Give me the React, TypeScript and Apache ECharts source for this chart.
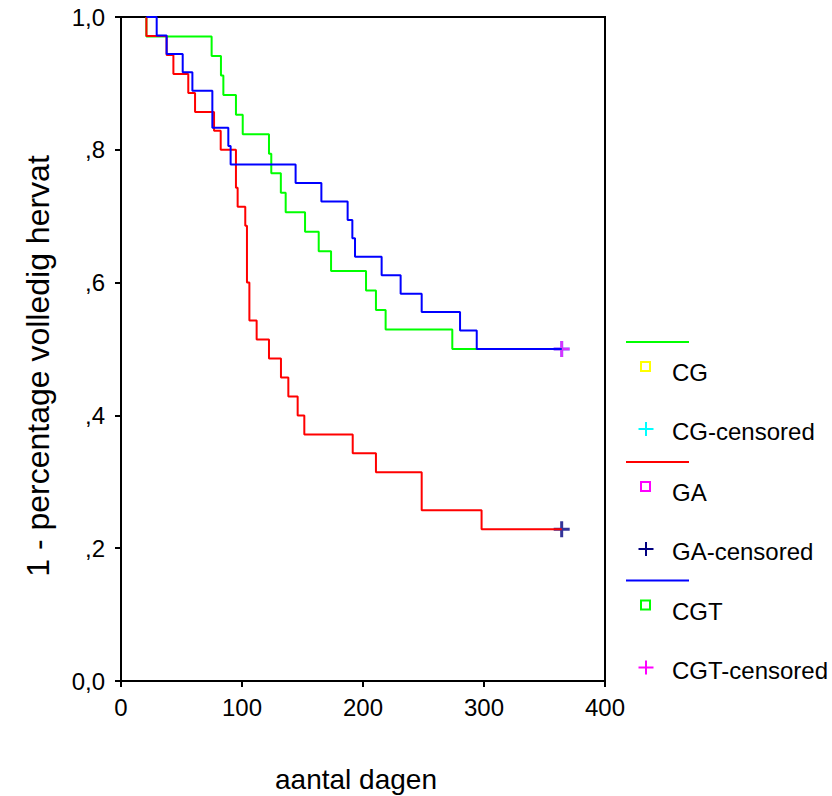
import React, { useEffect, useRef } from "react";
import * as echarts from "echarts";

// Kaplan-Meier step data (days, 1 - proportion fully resumed)
const cgDays = [21, 21, 74.9, 82.6, 84.6, 95, 100.6, 122.3, 124.2, 132.1, 136.1, 152.1, 163.4, 173.6, 202.5, 210.7, 218.7, 273.8, 364.2];
const cgSurv = [1, 0.9706, 0.9412, 0.9118, 0.8824, 0.8529, 0.8235, 0.7941, 0.7647, 0.7353, 0.7059, 0.6765, 0.6471, 0.6176, 0.5882, 0.5588, 0.5294, 0.5, 0.5];

const gaDays = [21, 21, 37.7, 43.3, 55.6, 61.2, 76.9, 82.4, 95, 96.4, 102.7, 104.1, 106.1, 112.1, 122.3, 132.2, 138.3, 146, 151.5, 191.5, 210.7, 248.5, 298, 364.2];
const gaSurv = [1, 0.9714, 0.9429, 0.9143, 0.8857, 0.8571, 0.8286, 0.8, 0.7429, 0.7143, 0.6857, 0.6, 0.5429, 0.5143, 0.4857, 0.4571, 0.4286, 0.4, 0.3714, 0.3429, 0.3143, 0.2571, 0.2286, 0.2286];

const cgtDays = [21, 29.5, 37.7, 51, 59, 75.5, 88.7, 90.6, 144.3, 165.6, 187.3, 191.2, 193.4, 215.4, 231.1, 248.5, 280.2, 294, 364.2];
const cgtSurv = [1, 0.9722, 0.9444, 0.9167, 0.8889, 0.8333, 0.8056, 0.7778, 0.75, 0.7222, 0.6944, 0.6667, 0.6389, 0.6111, 0.5833, 0.5556, 0.5278, 0.5, 0.5];

const cgCensDays = [364.2];
const cgCensSurv = [0.5];
const gaCensDays = [364.2];
const gaCensSurv = [0.2286];
const cgtCensDays = [364.2];
const cgtCensSurv = [0.5];

const legendLabels = ["CG", "CG-censored", "GA", "GA-censored", "CGT", "CGT-censored"];
const xTitle = "aantal dagen";
const yTitle = "1 - percentage volledig hervat";

const FONT = '"Liberation Sans", Arial, sans-serif';
const PLUS = "path://M6.5,0h3v6.5h6.5v3h-6.5v6.5h-3v-6.5h-6.5v-3h6.5z";

const zip = (xs: number[], ys: number[]) => xs.map((x, i) => [x, ys[i]]);

export default function App() {
  const ref = useRef<HTMLDivElement>(null);
  useEffect(() => {
    if (!ref.current) return;
    const chart = echarts.init(ref.current, undefined, { renderer: "svg" });

    const groups = [
      { line: "#00ff00", box: "#ffff00", cross: "#00ffff", y: 342 },
      { line: "#ff0000", box: "#ff00ff", cross: "#000080", y: 462 },
      { line: "#0000ff", box: "#00ff00", cross: "#ff00ff", y: 580.5 },
    ];
    const graphic: any[] = [];
    groups.forEach((g, i) => {
      graphic.push({
        type: "line",
        shape: { x1: 626, y1: g.y, x2: 689, y2: g.y },
        style: { stroke: g.line, lineWidth: 2 },
      });
      graphic.push({
        type: "rect",
        shape: { x: 641, y: g.y + 20, width: 9, height: 9 },
        style: { stroke: g.box, fill: "none", lineWidth: 2 },
      });
      graphic.push({
        type: "text",
        x: 672,
        y: g.y + 30.5,
        style: { text: legendLabels[i * 2], font: `24px ${FONT}`, fill: "#000", verticalAlign: "middle" },
      });
      const cx = 646, cy = g.y + 87;
      graphic.push({
        type: "line",
        shape: { x1: cx - 7.5, y1: cy, x2: cx + 7.5, y2: cy },
        style: { stroke: g.cross, lineWidth: 2 },
      });
      graphic.push({
        type: "line",
        shape: { x1: cx, y1: cy - 7, x2: cx, y2: cy + 7 },
        style: { stroke: g.cross, lineWidth: 2 },
      });
      graphic.push({
        type: "text",
        x: 672,
        y: g.y + 89.5,
        style: { text: legendLabels[i * 2 + 1], font: `24px ${FONT}`, fill: "#000", verticalAlign: "middle" },
      });
    });

    // axis titles
    graphic.push({
      type: "text",
      x: 356,
      y: 779,
      style: { text: xTitle, font: `28px ${FONT}`, fill: "#000", align: "center", verticalAlign: "middle" },
    });
    graphic.push({
      type: "text",
      x: 38,
      y: 366,
      rotation: Math.PI / 2,
      style: { text: yTitle, font: `32px ${FONT}`, fill: "#000", align: "center", verticalAlign: "middle" },
    });

    chart.setOption({
      animation: false,
      backgroundColor: "#fff",
      textStyle: { fontFamily: FONT },
      grid: {
        left: 121,
        top: 17,
        right: 227,
        bottom: 115,
        show: true,
        borderColor: "#000",
        borderWidth: 2,
        backgroundColor: "transparent",
      },
      xAxis: {
        type: "value",
        min: 0,
        max: 400,
        interval: 100,
        axisLine: { show: true, lineStyle: { color: "#000", width: 2 } },
        axisTick: { show: true, length: 6, lineStyle: { color: "#000", width: 2 } },
        axisLabel: { fontSize: 24, color: "#000", margin: 14, fontFamily: FONT },
        splitLine: { show: false },
      },
      yAxis: {
        type: "value",
        min: 0,
        max: 1,
        interval: 0.2,
        axisLine: { show: true, lineStyle: { color: "#000", width: 2 } },
        axisTick: { show: true, length: 6, lineStyle: { color: "#000", width: 2 } },
        axisLabel: {
          fontSize: 24,
          color: "#000",
          margin: 16,
          fontFamily: FONT,
          formatter: (v: number) => (v === 0 ? "0,0" : v === 1 ? "1,0" : "," + Math.round(v * 10)),
        },
        splitLine: { show: false },
      },
      series: [
        {
          name: "CG",
          type: "line",
          step: "end",
          data: zip(cgDays, cgSurv),
          showSymbol: false,
          lineStyle: { color: "#00ff00", width: 2 },
          itemStyle: { color: "#00ff00" },
        },
        {
          name: "GA",
          type: "line",
          step: "end",
          data: zip(gaDays, gaSurv),
          showSymbol: false,
          lineStyle: { color: "#ff0000", width: 2 },
          itemStyle: { color: "#ff0000" },
        },
        {
          name: "CGT",
          type: "line",
          step: "end",
          data: zip(cgtDays, cgtSurv),
          showSymbol: false,
          lineStyle: { color: "#0000ff", width: 2 },
          itemStyle: { color: "#0000ff" },
        },
        {
          name: "CG-censored",
          type: "scatter",
          data: zip(cgCensDays, cgCensSurv),
          symbol: PLUS,
          symbolSize: 16,
          itemStyle: { color: "#00ffff" },
        },
        {
          name: "GA-censored",
          type: "scatter",
          data: zip(gaCensDays, gaCensSurv),
          symbol: PLUS,
          symbolSize: 16,
          itemStyle: { color: "#000080" },
        },
        {
          name: "CGT-censored",
          type: "scatter",
          data: zip(cgtCensDays, cgtCensSurv),
          symbol: PLUS,
          symbolSize: 16,
          itemStyle: { color: "#ff00ff" },
        },
      ],
      graphic,
    });
    return () => chart.dispose();
  }, []);

  return (
    <div
      ref={ref}
      style={{ position: "fixed", left: 0, top: 0, width: 832, height: 796, background: "#fff" }}
    />
  );
}
